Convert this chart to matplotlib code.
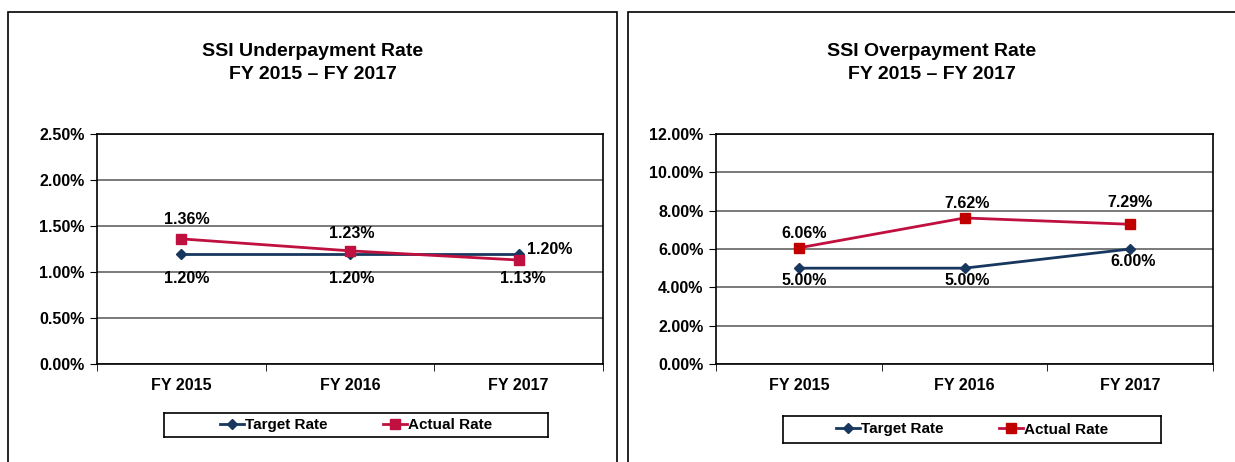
import numpy as np
import matplotlib.pyplot as plt
from matplotlib.patches import Rectangle
from matplotlib.ticker import FuncFormatter

plt.rcParams["font.family"] = ["Liberation Sans", "DejaVu Sans"]
plt.rcParams["font.weight"] = "bold"

years = ["FY 2015", "FY 2016", "FY 2017"]
under_target = [1.20, 1.20, 1.20]
under_actual = [1.36, 1.23, 1.13]
over_target = [5.00, 5.00, 6.00]
over_actual = [6.06, 7.62, 7.29]

W, H = 1235, 462
fig = plt.figure(figsize=(W / 100, H / 100), dpi=100)

NAVY = "#17375E"
CRIMSON = "#C0103F"


def px_axes(x0, y0, x1, y1):
    # pixel box (top-left origin) -> figure axes
    return fig.add_axes([x0 / W, 1 - y1 / H, (x1 - x0) / W, (y1 - y0) / H])


def panel(box, plot_box, legend_box, title, target, actual, ymax, ystep,
          marker_red, target_off, actual_off, target_ha, actual_ha):
    bx0, by0, bx1, by1 = box
    fig.add_artist(Rectangle((bx0 / W, 1 - by1 / H), (bx1 - bx0) / W, (by1 - by0) / H,
                             transform=fig.transFigure, fill=False,
                             edgecolor="black", lw=1.2))
    cx = (bx0 + min(bx1, W)) / 2
    fig.text(cx / W, 1 - 63 / H, title, ha="center", va="center",
             fontsize=14, fontweight="bold", linespacing=1.5)

    ax = px_axes(*plot_box)
    x = np.arange(len(years))
    ax.plot(x, target, color=NAVY, lw=2, marker="D", ms=5, label="Target Rate")
    ax.plot(x, actual, color=CRIMSON, lw=2, marker="s", ms=7.5,
            mfc=marker_red, mec=marker_red, label="Actual Rate")
    ax.set_xlim(-0.5, len(years) - 0.5)
    ax.set_ylim(0, ymax)
    ax.set_yticks(np.arange(0, ymax + ystep / 2, ystep))
    ax.yaxis.set_major_formatter(FuncFormatter(lambda v, p: f"{v:.2f}%"))
    ax.set_xticks(x)
    ax.set_xticklabels(years)
    ax.set_xticks(np.arange(-0.5, len(years), 1), minor=True)
    ax.tick_params(axis="x", which="major", length=0, pad=10, labelsize=11.5)
    ax.tick_params(axis="x", which="minor", length=5, direction="out")
    ax.tick_params(axis="y", length=5, direction="out", labelsize=11.5, pad=4)
    for lab in ax.get_xticklabels() + ax.get_yticklabels():
        lab.set_fontweight("bold")
    ax.grid(axis="y", color="#707070", lw=1.3)
    ax.set_axisbelow(True)
    for s in ax.spines.values():
        s.set_linewidth(1.2)

    for i in x:
        ax.annotate(f"{target[i]:.2f}%", (i, target[i]), xytext=target_off[i],
                    textcoords="offset pixels", ha=target_ha[i], va="center",
                    fontsize=11.5, fontweight="bold")
        ax.annotate(f"{actual[i]:.2f}%", (i, actual[i]), xytext=actual_off[i],
                    textcoords="offset pixels", ha=actual_ha[i], va="center",
                    fontsize=11.5, fontweight="bold")

    lax = px_axes(*legend_box)
    lax.set_xticks([])
    lax.set_yticks([])
    for s in lax.spines.values():
        s.set_linewidth(1.2)
    h, l = ax.get_legend_handles_labels()
    lax.legend(h, l, loc="center", ncol=2, frameon=False,
               handlelength=1.6, handletextpad=0.05, columnspacing=3.6,
               prop={"weight": "bold", "size": 11})


panel((8, 12, 617, 470), (97, 134, 603, 364), (164, 413, 548, 437),
      "SSI Underpayment Rate\nFY 2015 \u2013 FY 2017",
      under_target, under_actual, 2.5, 0.5, CRIMSON,
      [(5, -25), (2, -25), (8, 4)], [(5, 19), (2, 17), (4, -18)],
      ["center", "center", "left"], ["center", "center", "center"])
panel((628, 12, 1240, 470), (716, 134, 1213, 364), (783, 416, 1161, 443),
      "SSI Overpayment Rate\nFY 2015 \u2013 FY 2017",
      over_target, over_actual, 12, 2, "#C00000",
      [(5, -12), (3, -12), (3, -13)], [(5, 14), (3, 14), (0, 22)],
      ["center", "center", "center"], ["center", "center", "center"])

fig.savefig("out.png", dpi=100)
